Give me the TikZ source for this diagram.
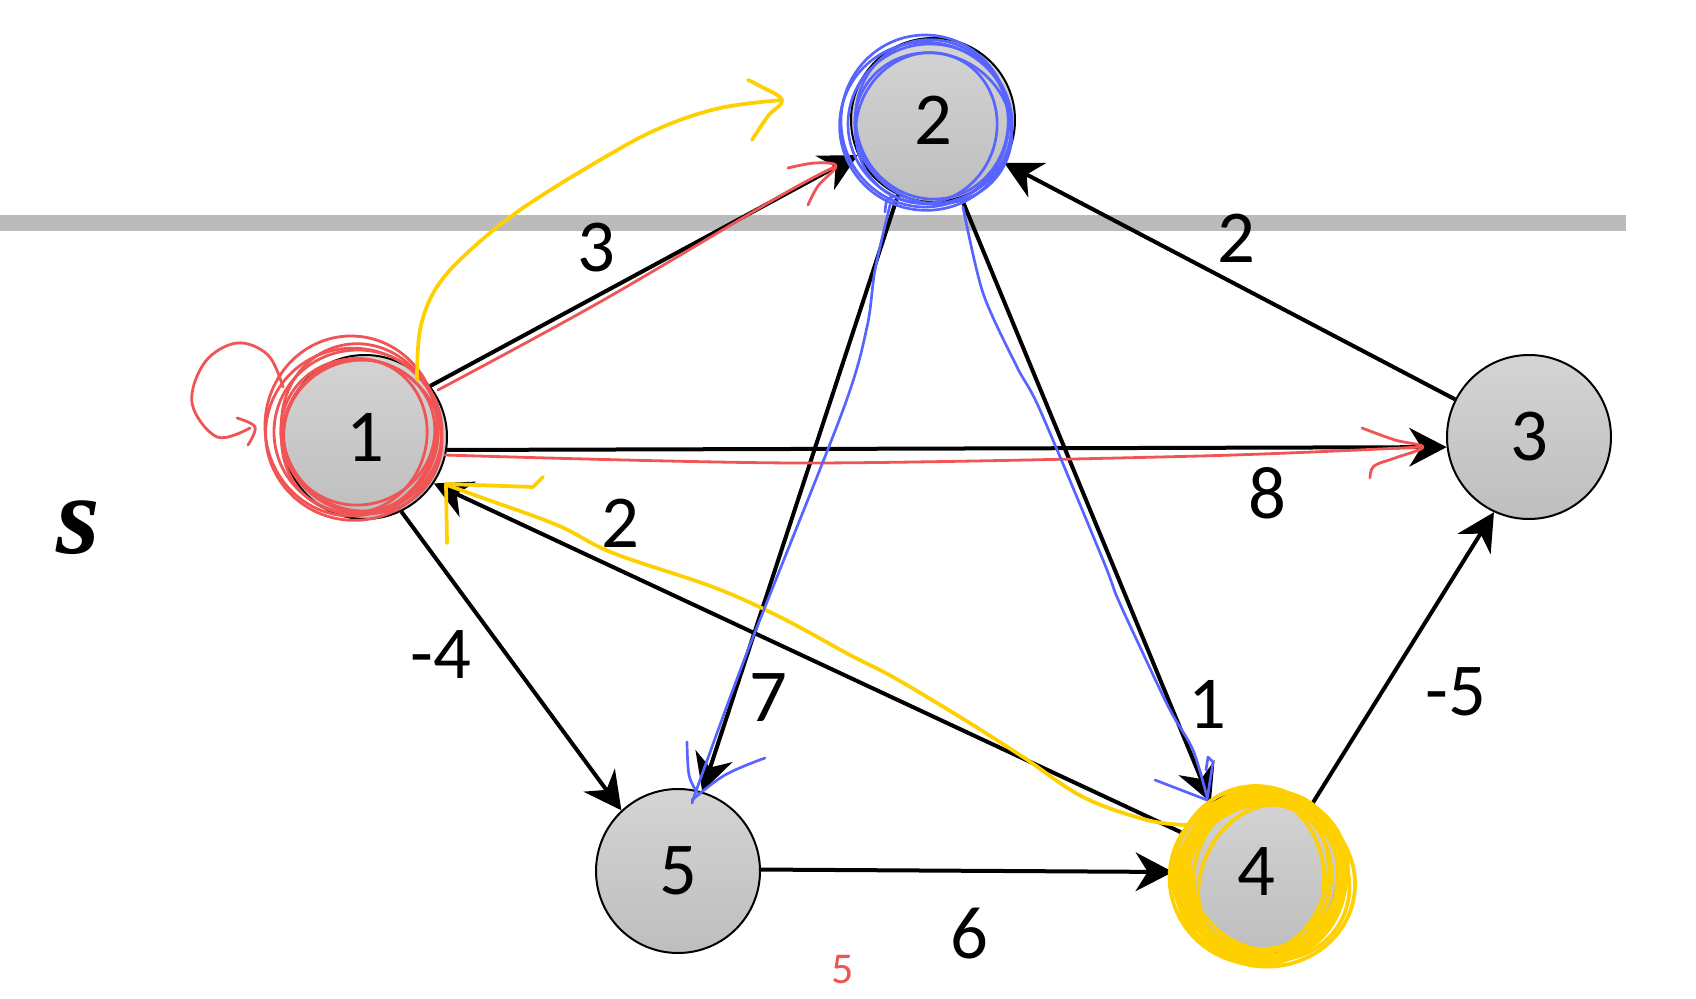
\documentclass[tikz,border=0pt]{standalone}
\usepackage{fontspec}
\setmainfont{Carlito}
\newfontfamily\srcfont{Liberation Serif}
\usetikzlibrary{arrows.meta}
\definecolor{barGray}{RGB}{187,187,187}
\definecolor{penRed}{RGB}{240,84,84}
\definecolor{penYellow}{RGB}{255,208,0}
\definecolor{penBlue}{RGB}{88,100,255}
\definecolor{vertexTop}{RGB}{212,212,212}
\definecolor{vertexBot}{RGB}{190,190,190}
\tikzset{
  vertex/.style={circle, draw=black, line width=1.5pt, minimum size=123pt, inner sep=0pt,
    top color=vertexTop, bottom color=vertexBot, font=\fontsize{56}{60}\selectfont},
  wedge/.style={line width=3pt, -{Stealth[length=28pt,width=29pt,inset=9pt]}},
  weight/.style={inner sep=0pt, font=\fontsize{56}{60}\selectfont},
  redpen/.style={penRed, line width=2.1pt, line cap=round, line join=round},
  yellowpen/.style={penYellow, line width=2.8pt, line cap=round, line join=round},
  bluepen/.style={penBlue, line width=2pt, line cap=round, line join=round},
}
\begin{document}
\begin{tikzpicture}[x=0.75pt,y=0.75pt,yscale=-1,xscale=1]
\useasboundingbox (0,0) rectangle (1696,999);

%Shape: Rectangle [cut bar]
\fill [barGray] (0,215) rectangle (1626,231);

%Shape: Circles [vertices]
\node [vertex] (n1) at (365,437) {1};
\node [vertex] (n2) at (933,120) {2};
\node [vertex] (n3) at (1529,437) {3};
\node [vertex] (n4) at (1256,872) {4};
\node [vertex] (n5) at (678,871) {5};

%Straight Lines [edges]
\draw [wedge] (n1.38) -- (n2.205);
\draw [wedge] (n1.-9) -- (n3.187);
\draw [wedge] (n3.153) -- (n2.-31);
\draw [wedge] (n2.-115) -- (n5.73);
\draw [wedge] (n2.-70) -- (n4.123);
\draw [wedge] (n4.152) -- (n1.-34);
\draw [wedge] (n1.-64) -- (n5.133);
\draw [wedge] (n5.1) -- (n4.180);
\draw [wedge] (n4.50) -- (n3.-115);

% Text Node [weights]
\node [weight] (w12) at (596,248) {3};
\node [weight] (w32) at (1236,238) {2};
\node [weight] (w13) at (1267,493) {8};
\node [weight] (w41) at (620,523) {2};
\node [weight] (w15) at (441,655) {-4};
\node [weight] (w25) at (768,698) {7};
\node [weight] (w24) at (1207,704) {1};
\node [weight] (w43) at (1456,692) {-5};
\node [weight] (w54) at (969,934) {6};

% Text Node [source]
\node [inner sep=0pt] (src) at (78,528) {\srcfont\fontsize{84}{90}\selectfont\bfseries\itshape s};

%Curve Lines [red pen]
\foreach \dx/\dy/\rx/\ry/\rot in {0/0/84/82/0, -4/3/88/86/10, 3/-4/78/84/-15, -2/5/72/78/20,
    5/2/82/76/30, -7/-6/86/90/0, 1/1/76/72/-20}
  \draw [redpen, rotate around={\rot:(358,432)}] (358+\dx,432+\dy) ellipse [x radius=\rx, y radius=\ry];
\draw [redpen] plot [smooth, tension=0.6] coordinates {(283,387) (268,355) (237,343) (205,362) (192,403) (217,437) (250,428)};
\draw [redpen] plot [smooth, tension=0.6] coordinates {(237,418) (255,427) (248,445)};
\draw [redpen] plot [smooth, tension=0.6] coordinates {(438,390) (600,302) (780,196) (835,167)};
\draw [redpen] plot [smooth, tension=0.6] coordinates {(788,168) (815,163) (836,166) (818,186) (808,205)};
\draw [redpen] plot [smooth, tension=0.5] coordinates {(445,455) (800,463) (1200,456) (1422,447)};
\draw [redpen] plot [smooth, tension=0.6] coordinates {(1362,428) (1395,440) (1423,447) (1395,458) (1374,466) (1370,478)};
\node [penRed, inner sep=0pt, font=\fontsize{33}{36}\selectfont] (note) at (843,970) {5};

%Curve Lines [yellow pen]
\draw [yellowpen] plot [smooth, tension=0.6] coordinates {(417,380) (420,330) (435,290) (465,255)
  (520,210) (600,160) (660,128) (720,108) (782,100)};
\draw [yellowpen] plot [smooth, tension=0.6] coordinates {(748,80) (760,86) (782,100) (768,116) (752,140)};
\draw [yellowpen] plot [smooth, tension=0.6] coordinates {(1187,825) (1147,820) (1083,797) (1023,757)
  (960,717) (893,677) (850,655) (780,617) (713,587) (613,553) (557,525) (480,497) (447,485)};
\draw [yellowpen] (446,484) -- (533,487) -- (543,477);
\draw [yellowpen] (446,484) -- (447,543);
\foreach \dx/\dy/\rx/\ry/\rot in {0/0/84/82/0, -4/3/88/86/10, 3/-4/78/84/-15, -2/5/72/80/20,
    5/2/86/78/30, -6/-2/82/88/0, 1/1/76/72/-20, 4/6/90/84/8, -8/0/70/84/-5, 2/-6/80/76/40,
    -3/4/86/80/-30, 6/-1/74/86/15, -1/-5/88/80/-10, 3/3/62/78/25}
  \draw [yellowpen, rotate around={\rot:(1262,876)}] (1262+\dx,876+\dy) ellipse [x radius=\rx, y radius=\ry];

%Curve Lines [blue pen]
\foreach \dx/\dy/\rx/\ry/\rot in {0/0/82/80/0, -4/3/86/84/10, 3/-4/76/80/-15, -2/5/70/76/20,
    5/2/80/74/30, -5/-3/84/86/0}
  \draw [bluepen, rotate around={\rot:(930,124)}] (930+\dx,124+\dy) ellipse [x radius=\rx, y radius=\ry];
\draw [bluepen] plot [smooth, tension=0.6] coordinates {(885,212) (887,200) (893,197)};
\draw [bluepen] plot [smooth, tension=0.5] coordinates {(890,205) (875,270) (867,327) (843,410)
  (748,650) (700,780) (692,803)};
\draw [bluepen] plot [smooth, tension=0.6] coordinates {(687,742) (689,775) (697,792)};
\draw [bluepen] plot [smooth, tension=0.6] coordinates {(692,800) (725,775) (765,758)};
\draw [bluepen] plot [smooth, tension=0.5] coordinates {(963,207) (983,293) (1017,367) (1040,410)
  (1103,560) (1117,597) (1140,647) (1170,710) (1193,750) (1207,797)};
\draw [bluepen] (1155,780) -- (1207,800) -- (1213,762) -- (1208,757) -- (1206,770);

\end{tikzpicture}
\end{document}
